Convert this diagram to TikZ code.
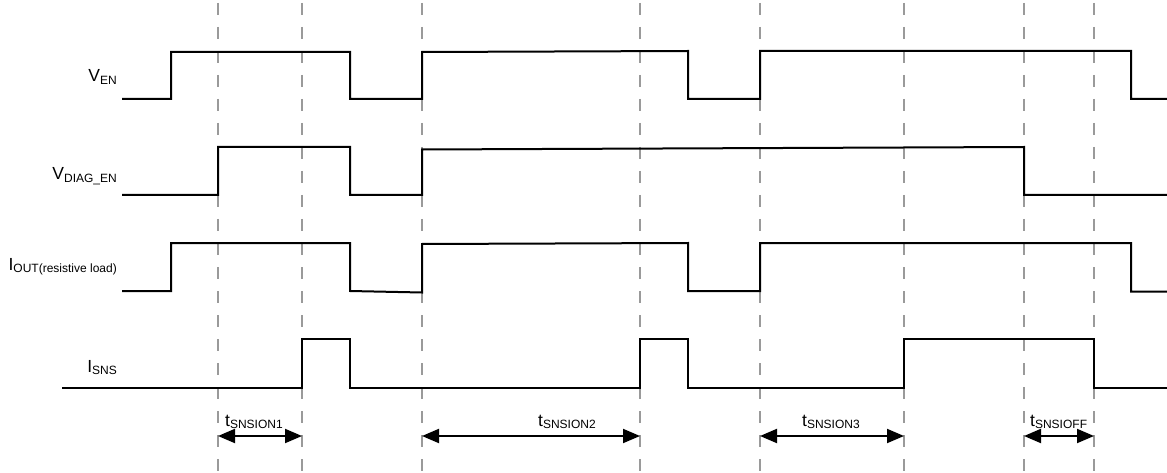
\documentclass[tikz,border=0pt]{standalone}
\usepackage{fontspec}
\setmainfont{Liberation Sans}
\usetikzlibrary{arrows.meta}

\definecolor{guidegray}{HTML}{9A9A9A}
\newcommand{\lowtext}[1]{\raisebox{-2.5pt}{\fontsize{12}{14}\selectfont #1}}

\tikzset{
	wave/.style={line width=2pt, line join=miter},
	guide/.style={guidegray, line width=1.4pt, dash pattern=on 12pt off 12pt},
	span/.style={line width=2pt, {Triangle[length=17pt,width=14pt]}-{Triangle[length=17pt,width=14pt]}},
	siglabel/.style={anchor=base east, inner sep=0pt, font=\fontsize{17.5}{20}\selectfont},
	tlabel/.style={anchor=base west, inner sep=0pt, font=\fontsize{17.5}{20}\selectfont}
}

\begin{document}
\begin{tikzpicture}[x=1pt, y=-1pt]
	\useasboundingbox (0,0) rectangle (1167,473);
	
	% guide lines
	\foreach \gx in {218,302,422,640,760,904,1024,1094}
		\draw [guide] (\gx,3) -- (\gx,473);
	
	% signal names
	\node [siglabel] (ven) at (117,82) {V\lowtext{EN}};
	\node [siglabel] (vdiag) at (117,180) {V\lowtext{DIAG\_EN}};
	\node [siglabel] (iout) at (117,270) {I\lowtext{OUT(resistive load)}};
	\node [siglabel] (isns) at (117,372) {I\lowtext{SNS}};
	
	% V_EN
	\draw [wave] (122,99) -- (171,99) -- (171,52) -- (350,52) -- (350,99) -- (422,99)
		-- (422,52) -- (688,51) -- (688,99) -- (760,99) -- (760,51) -- (1131,51)
		-- (1131,99) -- (1167,99);
	
	% V_DIAG_EN
	\draw [wave] (122,195) -- (218,195) -- (218,147) -- (350,147) -- (350,195) -- (422,195)
		-- (422,149.5) -- (1024,147) -- (1024,195) -- (1167,195);
	
	% I_OUT
	\draw [wave] (122,291) -- (171,291) -- (171,243) -- (350,243) -- (350,291) -- (422,292.5)
		-- (422,244) -- (688,243) -- (688,291) -- (760,291) -- (760,243) -- (1131,243)
		-- (1131,291.5) -- (1167,291.5);
	
	% I_SNS
	\draw [wave] (62,388) -- (302,388) -- (302,339) -- (350,339) -- (350,388) -- (640,388)
		-- (640,339) -- (688,339) -- (688,388) -- (904,388) -- (904,339) -- (1094,339)
		-- (1094,388) -- (1167,388);
	
	% timing spans
	\coordinate (s1a) at (218,436);
	\coordinate (s1b) at (302,436);
	\coordinate (s2a) at (422,436);
	\coordinate (s2b) at (640,436);
	\coordinate (s3a) at (760,436);
	\coordinate (s3b) at (904,436);
	\coordinate (s4a) at (1024,436);
	\coordinate (s4b) at (1094,436);
	
	\draw [span] (s1a) -- (s1b);
	\draw [span] (s2a) -- (s2b);
	\draw [span] (s3a) -- (s3b);
	\draw [span] (s4a) -- (s4b);
	
	\node [tlabel] (ton1) at (225,426) {t\lowtext{SNSION1}};
	\node [tlabel] (ton2) at (538,426) {t\lowtext{SNSION2}};
	\node [tlabel] (ton3) at (802,426) {t\lowtext{SNSION3}};
	\node [tlabel] (toff) at (1030,426) {t\lowtext{SNSIOFF}};
\end{tikzpicture}
\end{document}
